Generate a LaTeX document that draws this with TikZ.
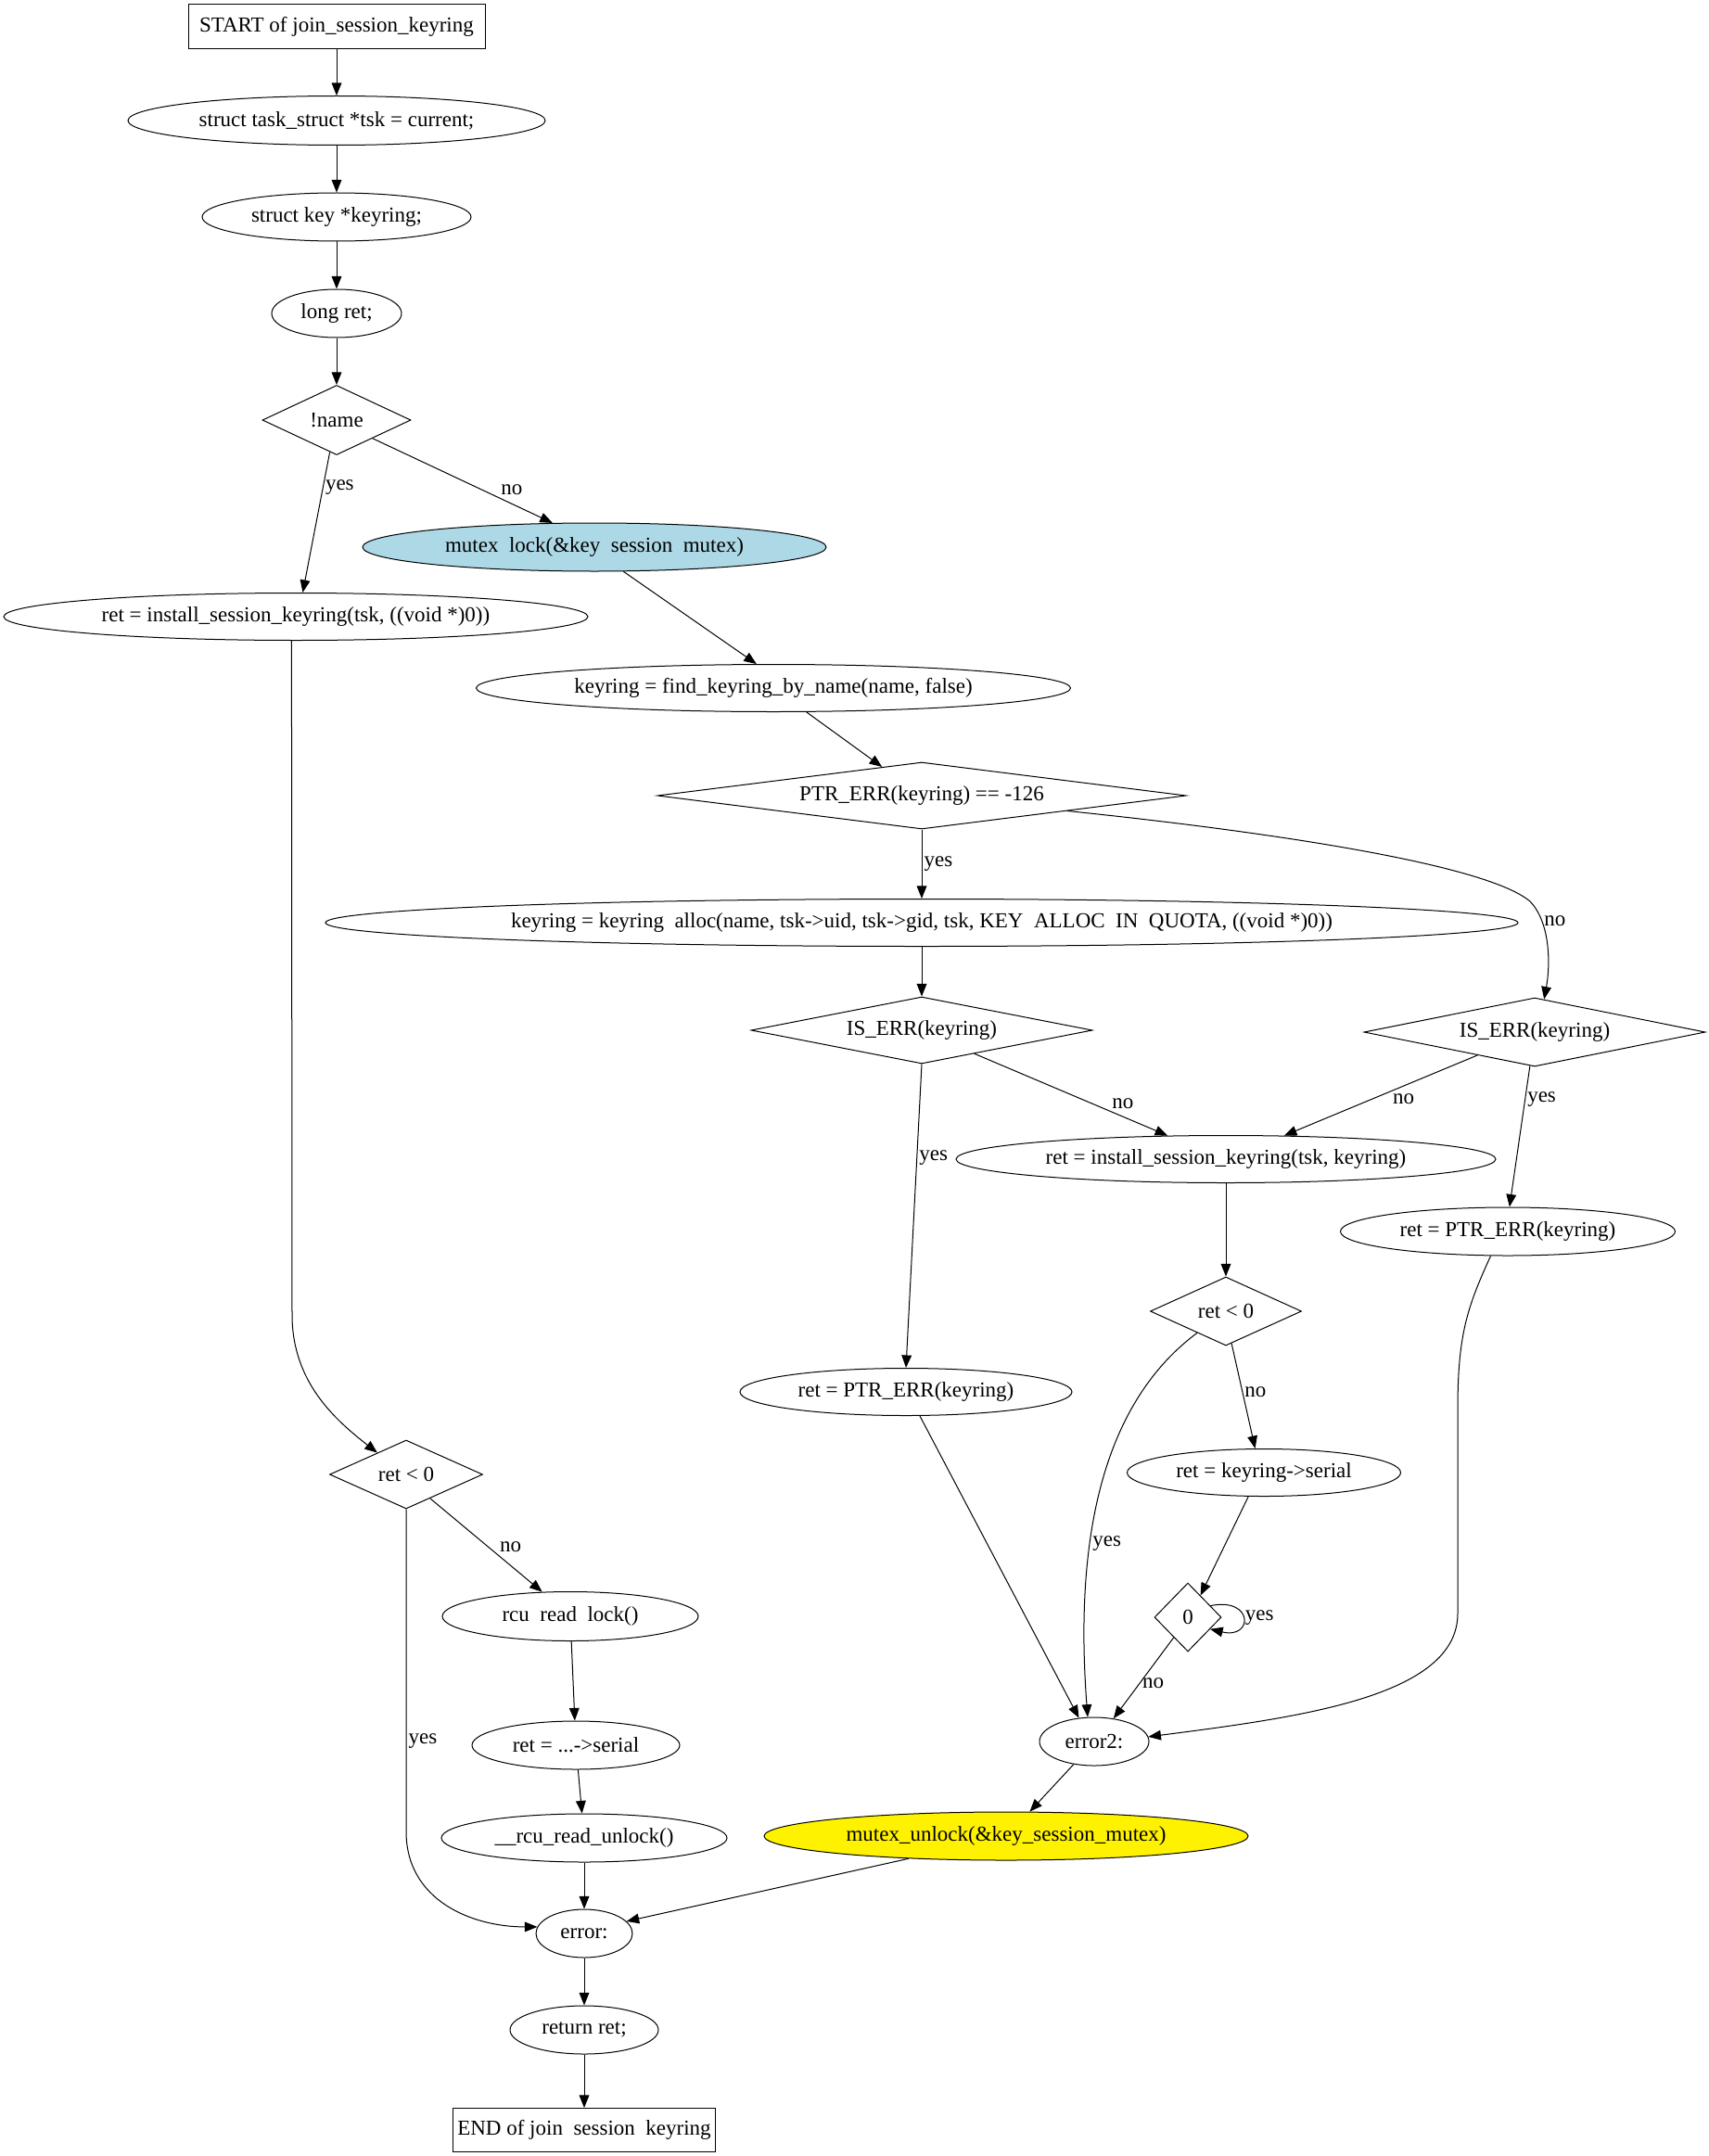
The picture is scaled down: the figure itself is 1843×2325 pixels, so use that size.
\documentclass[tikz,border=0pt]{standalone}
\usepackage{fontspec}
\setmainfont{Liberation Serif}
\usetikzlibrary{shapes.geometric, arrows.meta, positioning}
\definecolor{lightblue}{RGB}{173,216,230}
\newlength{\gvpx}
\setlength{\gvpx}{0.7pt}
\newcommand{\gvfont}{\fontsize{16.1pt}{19pt}\selectfont}
\tikzset{
    gvnode/.style={
        draw=black, line width=0.7pt, font=\gvfont, inner sep=0pt,
        execute at begin node={\hbox to 0pt\bgroup\hss},
        execute at end node={\hss\egroup}
    },
    term/.style={gvnode, rectangle},
    stmt/.style={gvnode, ellipse},
    cond/.style={gvnode, diamond},
    sz/.style 2 args={minimum width=#1\gvpx, minimum height=#2\gvpx},
    flow/.style={draw=black, line width=0.7pt, -{Triangle[length=9.5pt, width=7.5pt]}},
    lbl/.style={font=\gvfont, inner sep=1.5pt}
}

\begin{document}
\begin{tikzpicture}[x=0.7pt, y=-0.7pt]
\useasboundingbox (0,0) rectangle (1843,2325);

% declarations
\node[term, sz={320}{48}] (start) at (363,29) {START of join\_session\_keyring};
\node[stmt, sz={450}{53}] (tsk) at (363,130) {struct task\_struct *tsk = current;};
\node[stmt, sz={290}{52}] (keyd) at (363,234) {struct key *keyring;};
\node[stmt, sz={140}{52}] (retd) at (363,338) {long ret;};
\node[cond, sz={160}{75}] (name) at (363,453) {!name};

% no name given
\node[stmt, sz={630}{51}] (inst1) at (319,665) {ret = install\_session\_keyring(tsk, ((void *)0))};
\node[cond, sz={165}{74}] (retlt1) at (438,1590) {ret < 0};
\node[stmt, sz={276}{53}] (rcu) at (615,1743) {rcu\ \ read\ \ lock()};
\node[stmt, sz={224}{52}] (dots) at (621,1882) {ret = ...->serial};
\node[stmt, sz={308}{52}] (rcuun) at (630,1982) {\_\_rcu\_read\_unlock()};

% named keyring
\node[stmt, sz={500}{52}, fill=lightblue] (mlock) at (641,590) {mutex\ \ lock(\&key\ \ session\ \ mutex)};
\node[stmt, sz={641}{51}] (find) at (834,742) {keyring = find\_keyring\_by\_name(name, false)};
\node[cond, sz={570}{72}] (ptr) at (994,858) {PTR\_ERR(keyring) == -126};
\node[stmt, sz={1286}{51}] (alloc) at (994,995) {keyring = keyring\ \ alloc(name, tsk->uid, tsk->gid, tsk, KEY\ \ ALLOC\ \ IN\ \ QUOTA, ((void *)0))};
\node[cond, sz={368}{72}] (iserr1) at (994,1111) {IS\_ERR(keyring)};
\node[cond, sz={368}{74}] (iserr2) at (1655,1113) {IS\_ERR(keyring)};
\node[stmt, sz={582}{51}] (inst2) at (1322,1250) {ret = install\_session\_keyring(tsk, keyring)};
\node[stmt, sz={361}{52}] (ptrerr2) at (1626,1328) {ret = PTR\_ERR(keyring)};
\node[cond, sz={163}{74}] (retlt2) at (1322,1414) {ret < 0};
\node[stmt, sz={358}{51}] (ptrerr1) at (977,1501) {ret = PTR\_ERR(keyring)};
\node[stmt, sz={295}{51}] (serial) at (1363,1588) {ret = keyring->serial};
\node[cond, sz={72}{74}] (zero) at (1281,1744) {0};
\node[stmt, sz={118}{52}] (error2) at (1180,1878) {error2:};
\node[stmt, sz={522}{52}, fill=yellow] (unlock) at (1085,1980) {mutex\_unlock(\&key\_session\_mutex)};

% exit
\node[stmt, sz={104}{52}] (err) at (630,2085) {error:};
\node[stmt, sz={160}{52}] (ret) at (630,2189) {return ret;};
\node[term, sz={283}{47}] (endn) at (630,2297) {END of join\ \ session\ \ keyring};

\draw[flow] (start) -- (tsk);
\draw[flow] (tsk) -- (keyd);
\draw[flow] (keyd) -- (retd);
\draw[flow] (retd) -- (name);
\draw[flow] (name.258) -- node[lbl, pos=0.25, anchor=west] {yes} (inst1.74);
\draw[flow] (name.-27) -- node[lbl, pos=0.7, anchor=south west] {no} (mlock.150);

\draw[flow] (mlock.-40) -- (find.125);
\draw[flow] (find) -- (ptr);
\draw[flow] (ptr) -- node[lbl, pos=0.5, anchor=west] {yes} (alloc);
\draw[flow] (ptr.-6) .. controls (1350,895) and (1600,930) .. (1650,972)
    .. controls (1672,995) and (1672,1040) .. (iserr2.74) node[lbl, pos=0.25, anchor=west] {no};
\draw[flow] (alloc) -- (iserr1);
\draw[flow] (iserr1.-24) -- node[lbl, pos=0.7, anchor=south west] {no} (inst2.158);
\draw[flow] (iserr1.south) -- node[lbl, pos=0.31, anchor=west] {yes} (ptrerr1.north);
\draw[flow] (iserr2.202) -- node[lbl, pos=0.45, anchor=north west] {no} (inst2.22);
\draw[flow] (iserr2.262) -- node[lbl, pos=0.24, anchor=west] {yes} (ptrerr2.86);
\draw[flow] (inst2) -- (retlt2);
\draw[flow] (retlt2.-80) -- node[lbl, pos=0.46, anchor=west] {no} (serial.110);
\draw[flow] (retlt2.217) .. controls (1180,1520) and (1160,1680) .. (error2.105)
    node[lbl, pos=0.62, anchor=west] {yes};
\draw[flow] (serial.237) -- (zero.60);
\draw[flow] (zero.27) .. controls (1352,1722) and (1352,1768) .. (zero.-28)
    node[lbl, pos=0.5, anchor=west] {yes};
\draw[flow] (zero.235) -- node[lbl, pos=0.56, anchor=west] {no} (error2.50);
\draw[flow] (ptrerr2.235) .. controls (1582,1410) and (1572,1440) .. (1572,1520) -- (1572,1740)
    .. controls (1572,1830) and (1400,1852) .. (error2.5);
\draw[flow] (ptrerr1.-60) -- (error2.123);
\draw[flow] (error2.228) -- (unlock.46);

% left branch
\draw[flow] (inst1.260) -- (315,1420) .. controls (316,1490) and (360,1530) .. (retlt1.143);
\draw[flow] (retlt1.-45) -- node[lbl, pos=0.6, anchor=south west] {no} (rcu.139);
\draw[flow] (retlt1.south) -- node[lbl, pos=0.72, anchor=west] {yes} (438,1975)
    .. controls (438,2050) and (510,2078) .. (err.172);
\draw[flow] (rcu) -- (dots);
\draw[flow] (dots) -- (rcuun);
\draw[flow] (rcuun) -- (err);
\draw[flow] (unlock.193) -- (err.16);
\draw[flow] (err) -- (ret);
\draw[flow] (ret) -- (endn);

\end{tikzpicture}
\end{document}
